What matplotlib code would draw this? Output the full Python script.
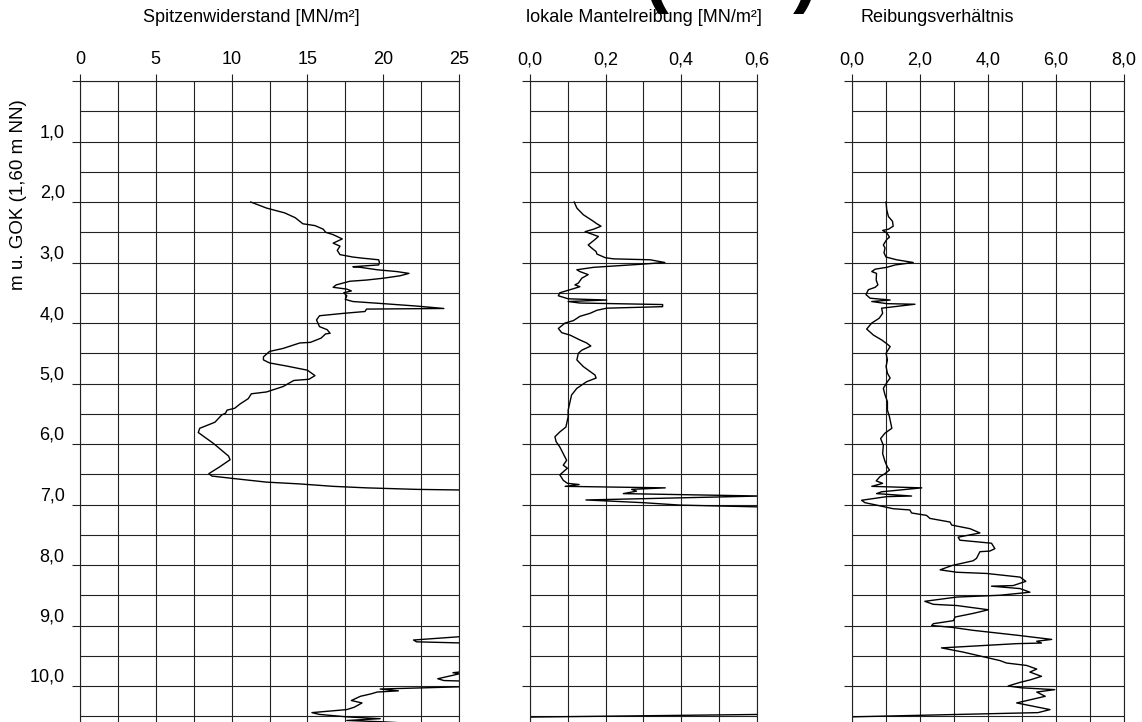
import matplotlib
matplotlib.use('Agg')
import matplotlib.pyplot as plt
from matplotlib.ticker import MultipleLocator, FuncFormatter

plt.rcParams['font.family'] = ['Liberation Sans', 'DejaVu Sans']

# Spitzenwiderstand qc [MN/m²] über Tiefe [m]
qc_tiefe = [2.00, 2.10, 2.18, 2.26, 2.36, 2.39, 2.45, 2.50, 2.54, 2.61, 2.68, 2.73, 2.80, 2.87,
            2.91, 2.93, 2.955, 3.00, 3.04, 3.07, 3.08, 3.12, 3.15, 3.18, 3.22, 3.26, 3.29, 3.31,
            3.37, 3.41, 3.44, 3.47, 3.50, 3.55, 3.61, 3.645, 3.68, 3.72, 3.76, 3.77, 3.81, 3.84,
            3.88, 3.95, 4.06, 4.11, 4.17, 4.18, 4.25, 4.32, 4.33, 4.42, 4.47, 4.56, 4.61, 4.66,
            4.71, 4.78, 4.87, 4.93, 4.95, 5.05, 5.14, 5.17, 5.25, 5.34, 5.41, 5.44, 5.49, 5.52,
            5.64, 5.74, 5.81, 5.99, 6.20, 6.26, 6.38, 6.49, 6.53, 6.57, 6.60, 6.63, 6.66, 6.70,
            6.725, 6.75, 6.76, 6.80, 9.15, 9.24, 9.27, 9.30, 9.72, 9.78, 9.80, 9.88, 9.91, 9.93,
            10.00, 10.05, 10.08, 10.10, 10.13, 10.17, 10.24, 10.28, 10.35, 10.39, 10.44, 10.47,
            10.51, 10.54, 10.57, 10.59, 10.62]
qc_wert = [11.26, 12.3, 13.5, 14.2, 14.7, 15.5, 16.05, 16.2, 16.7, 17.3, 16.7, 17.15, 16.97, 17.15,
           18.0, 18.7, 19.7, 19.75, 19.7, 18.0, 18.5, 19.6, 20.9, 21.7, 21.1, 20.0, 18.9, 17.8,
           16.9, 16.7, 17.6, 17.9, 17.4, 17.6, 17.5, 18.0, 20.0, 22.2, 24.0, 18.9, 18.8, 17.4,
           15.8, 15.6, 15.8, 16.3, 16.5, 16.2, 15.9, 15.2, 14.5, 13.4, 12.5, 12.1, 12.1, 12.5,
           13.6, 15.0, 15.5, 15.1, 14.1, 13.4, 12.3, 11.3, 11.1, 10.55, 10.2, 9.7, 9.6, 9.35,
           8.9, 7.9, 7.8, 8.8, 9.8, 9.9, 9.2, 8.5, 8.7, 10.1, 11.2, 12.3, 14.5, 16.7,
           18.9, 22.2, 25.0, 27.0, 27.0, 22.0, 22.2, 27.0, 27.0, 24.6, 25.0, 23.6, 24.0, 27.0,
           27.0, 19.8, 21.0, 19.6, 19.2, 18.5, 17.9, 18.6, 18.1, 17.6, 15.3, 15.8,
           17.6, 19.8, 17.6, 19.8, 22.0]

# lokale Mantelreibung fs [MN/m²]
fs_tiefe = [2.00, 2.10, 2.21, 2.32, 2.36, 2.40, 2.45, 2.49, 2.52, 2.57, 2.62, 2.71, 2.76, 2.82,
            2.86, 2.92, 2.94, 2.955, 3.00, 3.03, 3.055, 3.08, 3.12, 3.15, 3.20, 3.26, 3.34, 3.37,
            3.40, 3.45, 3.50, 3.55, 3.60, 3.62, 3.645, 3.67, 3.695, 3.73, 3.755, 3.79, 3.84, 3.89,
            3.96, 4.00, 4.09, 4.16, 4.20, 4.28, 4.33, 4.38, 4.45, 4.50, 4.61, 4.72, 4.86, 4.91,
            4.97, 5.08, 5.19, 5.30, 5.44, 5.55, 5.72, 5.80, 5.88, 5.96, 6.05, 6.16, 6.27, 6.35,
            6.40, 6.51, 6.60, 6.65, 6.67, 6.70, 6.725, 6.75, 6.78, 6.82, 6.86, 6.925, 6.97, 7.01,
            7.04, 10.47, 10.515, 10.62]
fs_wert = [0.117, 0.124, 0.141, 0.168, 0.177, 0.188, 0.168, 0.146, 0.159, 0.181, 0.172, 0.154, 0.163, 0.175,
           0.177, 0.199, 0.221, 0.318, 0.357, 0.291, 0.229, 0.168, 0.124, 0.132, 0.154, 0.137, 0.128, 0.119,
           0.132, 0.106, 0.079, 0.075, 0.101, 0.203, 0.101, 0.132, 0.351, 0.351, 0.203, 0.177, 0.159, 0.132,
           0.115, 0.093, 0.075, 0.084, 0.106, 0.132, 0.150, 0.161, 0.137, 0.128, 0.124, 0.141, 0.172, 0.175,
           0.150, 0.124, 0.110, 0.106, 0.101, 0.101, 0.095, 0.079, 0.066, 0.069, 0.079, 0.088, 0.097, 0.088,
           0.099, 0.079, 0.088, 0.099, 0.130, 0.093, 0.358, 0.269, 0.282, 0.247, 0.61, 0.148, 0.30, 0.397,
           0.61, 0.61, -0.02, -0.02]

# Reibungsverhältnis Rf [%]
rf_tiefe = [2.00, 2.13, 2.24, 2.32, 2.40, 2.45, 2.47, 2.51, 2.58, 2.62, 2.71, 2.76, 2.84, 2.91,
            2.955, 3.00, 3.04, 3.08, 3.11, 3.15, 3.18, 3.29, 3.37, 3.41, 3.45, 3.53, 3.59, 3.62,
            3.645, 3.68, 3.69, 3.755, 3.84, 3.92, 3.95, 4.00, 4.10, 4.20, 4.28, 4.35, 4.39, 4.50,
            4.61, 4.72, 4.83, 4.91, 4.97, 5.08, 5.19, 5.30, 5.44, 5.55, 5.74, 5.82, 5.91, 6.02,
            6.16, 6.29, 6.38, 6.43, 6.49, 6.54, 6.61, 6.65, 6.70, 6.725, 6.79, 6.82, 6.86, 6.87,
            6.93, 6.97, 7.01, 7.07, 7.09, 7.14, 7.18, 7.23, 7.29, 7.34, 7.40, 7.47, 7.54, 7.59,
            7.64, 7.73, 7.77, 7.78, 7.89, 7.93, 8.01, 8.08, 8.12, 8.14, 8.20, 8.27, 8.34, 8.35,
            8.39, 8.45, 8.50, 8.53, 8.60, 8.65, 8.67, 8.74, 8.80, 8.86, 8.92, 8.97, 9.00, 9.03,
            9.08, 9.16, 9.23, 9.26, 9.29, 9.30, 9.37, 9.44, 9.58, 9.62, 9.66, 9.72, 9.77, 9.84,
            9.90, 9.94, 10.00, 10.03, 10.06, 10.10, 10.17, 10.28, 10.39, 10.44, 10.51, 10.62]
rf_wert = [1.01, 1.03, 1.08, 1.20, 1.22, 1.08, 0.91, 1.03, 1.11, 1.03, 0.93, 0.98, 0.95, 1.01,
           1.32, 1.81, 1.28, 1.03, 0.69, 0.59, 0.73, 0.72, 0.77, 0.69, 0.49, 0.42, 0.54, 1.13,
           0.59, 1.03, 1.86, 0.88, 0.91, 0.81, 0.73, 0.59, 0.44, 0.64, 0.88, 1.05, 1.13, 1.01,
           1.05, 1.01, 1.05, 1.13, 1.05, 0.93, 0.98, 1.05, 1.05, 1.11, 1.18, 0.98, 0.85, 0.93,
           0.91, 0.98, 1.05, 1.11, 0.98, 0.83, 0.72, 0.91, 0.59, 2.06, 0.88, 0.73, 1.76, 1.03,
           0.29, 0.39, 0.73, 1.22, 1.71, 1.76, 2.20, 2.30, 2.89, 2.94, 3.48, 3.77, 3.13, 3.18,
           4.11, 4.21, 4.06, 3.77, 3.67, 3.57, 2.94, 2.60, 3.09, 3.97, 4.95, 5.12, 4.75, 4.11,
           4.95, 5.24, 4.36, 3.09, 2.15, 2.40, 3.09, 4.02, 3.57, 3.04, 2.99, 2.40, 2.35, 2.94,
           3.57, 4.85, 5.88, 5.44, 5.58, 4.85, 2.64, 3.28, 4.36, 4.55, 5.14, 5.44, 5.24, 5.58,
           5.24, 4.95, 4.60, 4.99, 5.97, 5.44, 5.69, 4.85, 5.83, 5.48, 0.0, 0.0]

W, H = 1142, 722
top_px = 81
px_per_m = 60.5
tiefe_max = (H - top_px) / px_per_m

fig = plt.figure(figsize=(W / 100, H / 100), dpi=100)

panels = [
    (80, 459, qc_wert, qc_tiefe, 25, 5, 2.5, lambda v, p: f'{v:g}'),
    (530, 756.7, fs_wert, fs_tiefe, 0.6, 0.2, 0.1, lambda v, p: f'{v:.1f}'.replace('.', ',')),
    (851.7, 1123.8, rf_wert, rf_tiefe, 8.0, 2.0, 1.0, lambda v, p: f'{v:.1f}'.replace('.', ',')),
]

gridfarbe = '#222222'
for i, (x0, x1, werte, tiefe, xmax, major, minor, fmt) in enumerate(panels):
    ax = fig.add_axes([x0 / W, 0, (x1 - x0) / W, (H - top_px) / H])
    ax.plot(werte, tiefe, color='black', lw=1.0)
    ax.set_xlim(0, xmax)
    ax.set_ylim(tiefe_max, 0)
    ax.xaxis.tick_top()
    ax.xaxis.set_major_locator(MultipleLocator(major))
    ax.xaxis.set_minor_locator(MultipleLocator(minor))
    ax.xaxis.set_major_formatter(FuncFormatter(fmt))
    ax.yaxis.set_major_locator(MultipleLocator(1.0))
    ax.yaxis.set_minor_locator(MultipleLocator(0.5))
    ax.yaxis.set_major_formatter(FuncFormatter(
        lambda v, p: '' if abs(v) < 1e-9 else f'{v:.1f}'.replace('.', ',')))
    ax.grid(which='both', color=gridfarbe, lw=0.8)
    ax.tick_params(axis='x', which='major', direction='out', length=5.2, width=0.8,
                   color=gridfarbe, pad=4, labelsize=13)
    ax.tick_params(axis='y', which='major', direction='out', length=6, width=0.8,
                   color=gridfarbe, pad=5, labelsize=13, labelleft=(i == 0))
    ax.tick_params(which='minor', length=0)
    for s in ['left', 'top', 'right']:
        ax.spines[s].set_color(gridfarbe)
        ax.spines[s].set_linewidth(0.8)
    ax.spines['bottom'].set_visible(False)
    for lab in ax.get_yticklabels():
        lab.set_va('bottom')

fig.text(143 / W, 1 - 18 / H, 'Spitzenwiderstand [MN/m²]', ha='left', va='center', fontsize=13)
fig.text(526 / W, 1 - 18 / H, 'lokale Mantelreibung [MN/m²]', ha='left', va='center', fontsize=13)
fig.text(860 / W, 1 - 18 / H, 'Reibungsverhältnis', ha='left', va='center', fontsize=13)
fig.text(19 / W, 1 - 195 / H, 'm u. GOK (1,60 m NN)', rotation=90, ha='center', va='center',
         fontsize=13.5)

# angeschnittene Klammern am oberen Rand
fig.text(656 / W, 1 - 14 / H, '(', ha='center', va='bottom', fontsize=54, fontweight='bold')
fig.text(805 / W, 1 - 14 / H, ')', ha='center', va='bottom', fontsize=54, fontweight='bold')

fig.savefig('out.png', dpi=100)
